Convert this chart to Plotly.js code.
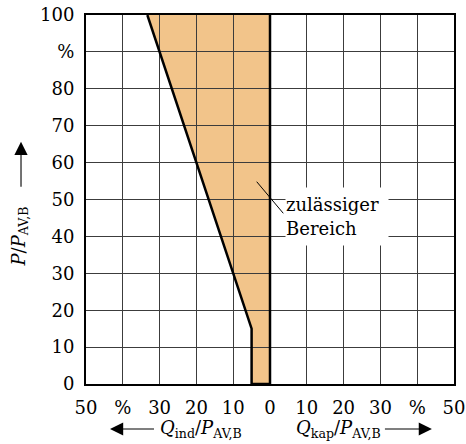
<!DOCTYPE html>
<html>
<head>
<meta charset="utf-8">
<script src="https://cdn.plot.ly/plotly-3.0.1.min.js"></script>
<style>
  html, body { margin: 0; padding: 0; background: #fff; }
  #chart { width: 466px; height: 444px; }
</style>
</head>
<body>
<div id="chart"></div>
<script>
// Permissible operating region: reactive power Q (inductive < 0 < capacitive)
// over active power P, both relative to P_AV,B in percent.
const regionQ = [-33.33, -5, -5, 0, 0];
const regionP = [100, 15, 0, 0, 100];

// Axis ticks
const xTickVals = [-50, -40, -30, -20, -10, 0, 10, 20, 30, 40, 50];
const xTickText = ['50', '%', '30', '20', '10', '0', '10', '20', '30', '%', '50'];
const yTickVals = [0, 10, 20, 30, 40, 50, 60, 70, 80, 90, 100];
const yTickText = ['0', '10', '20', '30', '40', '50', '60', '70', '80', '%', '100'];

const FONT = 'DejaVu Serif, serif';
const fillColor = '#f2c48a';

// Filled area as a path in data coordinates, kept under the grid lines
let path = '';
regionQ.forEach((q, i) => { path += (i === 0 ? 'M ' : ' L ') + q + ',' + regionP[i]; });
path += ' Z';

const traces = [{
  type: 'scatter',
  mode: 'lines',
  x: regionQ,
  y: regionP,
  line: { color: '#000', width: 2.5 },
  hoverinfo: 'skip',
  showlegend: false,
  cliponaxis: false
}];

const axisCommon = {
  showgrid: true,
  gridcolor: '#3c3c3c',
  gridwidth: 1,
  zeroline: false,
  showline: true,
  linecolor: '#000',
  linewidth: 2,
  mirror: true,
  ticks: '',
  tickmode: 'array',
  tickfont: { family: FONT, size: 18, color: '#000' },
  fixedrange: true
};

// Bare direction arrows: a 1x1 empty label so the shaft keeps its full length
const arrowStyle = {
  text: '', showarrow: true, width: 1, height: 1, borderpad: 0,
  font: { size: 1 },
  arrowhead: 2, arrowsize: 2.4, arrowwidth: 1.1, arrowcolor: '#000', standoff: 0
};

const layout = {
  width: 466,
  height: 444,
  margin: { l: 86, r: 12, t: 15, b: 60 },
  paper_bgcolor: '#fff',
  plot_bgcolor: '#fff',
  font: { family: FONT, size: 18, color: '#000' },
  xaxis: Object.assign({}, axisCommon, {
    range: [-50, 50],
    tickvals: xTickVals,
    ticktext: xTickText,
    ticklabelstandoff: 6
  }),
  yaxis: Object.assign({}, axisCommon, {
    range: [0, 100],
    tickvals: yTickVals,
    ticktext: yTickText,
    ticklabelstandoff: 6
  }),
  shapes: [
    {
      type: 'path', xref: 'x', yref: 'y', path: path,
      fillcolor: fillColor, line: { width: 0 }, layer: 'below'
    },
    {
      type: 'line', xref: 'paper', yref: 'paper',
      x0: 0.4639, y0: 0.5482, x1: 0.5361, y1: 0.4626,
      line: { color: '#000', width: 1 }, layer: 'above'
    }
  ],
  annotations: [
    {
      xref: 'paper', yref: 'paper', x: 0.681, y: 0.454,
      text: 'zulässiger<br>Bereich', showarrow: false, align: 'left',
      xanchor: 'center', yanchor: 'middle',
      width: 102, height: 57, bgcolor: '#fff', borderpad: 0,
      font: { family: FONT, size: 18, color: '#000' }
    },
    // x-axis titles with direction arrows
    {
      xref: 'paper', yref: 'paper', x: 0.3125, y: -0.122,
      text: '<i>Q</i><sub>ind</sub>/<i>P</i><sub>AV,B</sub>', showarrow: false,
      xanchor: 'center', yanchor: 'middle',
      font: { family: FONT, size: 18, color: '#000' }
    },
    Object.assign({ xref: 'paper', yref: 'paper', x: 0.0652, y: -0.122, ax: 45, ay: 0 }, arrowStyle),
    {
      xref: 'paper', yref: 'paper', x: 0.685, y: -0.122,
      text: '<i>Q</i><sub>kap</sub>/<i>P</i><sub>AV,B</sub>', showarrow: false,
      xanchor: 'center', yanchor: 'middle',
      font: { family: FONT, size: 18, color: '#000' }
    },
    Object.assign({ xref: 'paper', yref: 'paper', x: 0.940, y: -0.122, ax: -48, ay: 0 }, arrowStyle),
    // y-axis title with direction arrow
    {
      xref: 'paper', yref: 'paper', x: -0.179, y: 0.40,
      text: '<i>P</i>/<i>P</i><sub>AV,B</sub>', showarrow: false, textangle: -90,
      xanchor: 'center', yanchor: 'middle',
      font: { family: FONT, size: 18, color: '#000' }
    },
    Object.assign({ xref: 'paper', yref: 'paper', x: -0.1766, y: 0.6566, ax: 0, ay: 46 }, arrowStyle)
  ]
};

Plotly.newPlot('chart', traces, layout, { staticPlot: true, displayModeBar: false });
</script>
</body>
</html>
